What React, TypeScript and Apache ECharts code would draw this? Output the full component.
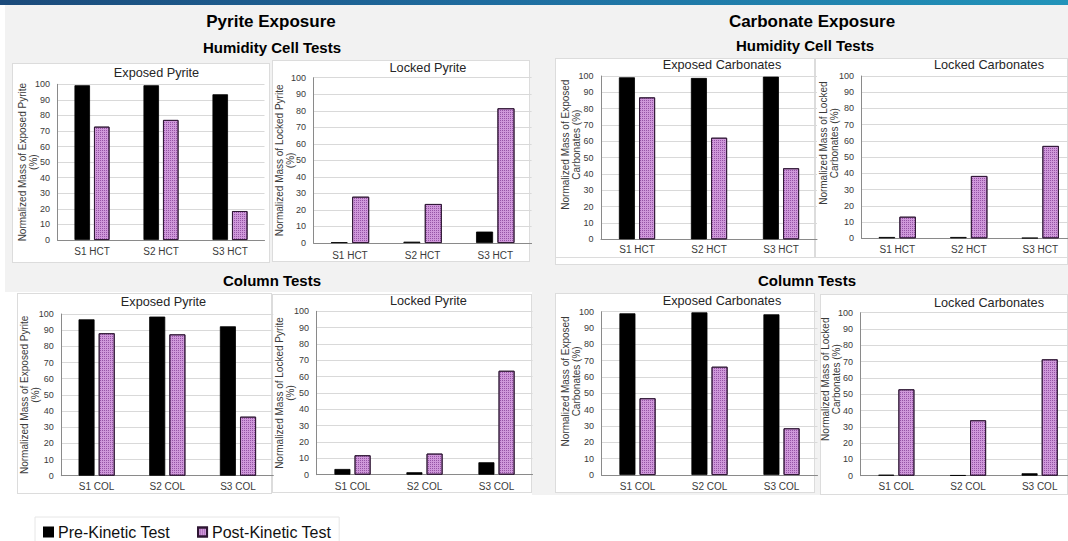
import React, { useEffect, useRef } from "react";
import * as echarts from "echarts";

const FONT = '"Liberation Sans", Arial, Helvetica, sans-serif';

// ---------- data ----------
const hctCategories = ["S1 HCT", "S2 HCT", "S3 HCT"];
const colCategories = ["S1 COL", "S2 COL", "S3 COL"];
const legendLabels = ["Pre-Kinetic Test", "Post-Kinetic Test"];

const exposedPyriteHctPre = [99.4, 99.4, 93.6];
const exposedPyriteHctPost = [72.8, 77.1, 18.6];
const lockedPyriteHctPre = [0.5, 0.8, 6.9];
const lockedPyriteHctPost = [28.0, 23.6, 81.5];
const exposedCarbHctPre = [99.2, 98.8, 99.6];
const exposedCarbHctPost = [86.9, 62.2, 43.5];
const lockedCarbHctPre = [0.8, 0.8, 0.3];
const lockedCarbHctPost = [13.3, 38.4, 56.9];

const exposedPyriteColPre = [96.7, 98.4, 92.4];
const exposedPyriteColPost = [88.1, 87.4, 36.5];
const lockedPyriteColPre = [3.5, 1.5, 7.6];
const lockedPyriteColPost = [11.9, 12.9, 63.6];
const exposedCarbColPre = [99.0, 99.6, 98.4];
const exposedCarbColPost = [47.0, 66.3, 28.6];
const lockedCarbColPre = [0.6, 0.3, 1.5];
const lockedCarbColPost = [53.0, 34.0, 71.4];

const yMin = 0;
const yMax = 100;
const yStep = 10;

const panelTitles = [
  "Exposed Pyrite", "Locked Pyrite", "Exposed Carbonates", "Locked Carbonates",
  "Exposed Pyrite", "Locked Pyrite", "Exposed Carbonates", "Locked Carbonates",
];
const yNames = [
  "Normalized Mass of Exposed Pyrite\n(%)",
  "Normalized Mass of Locked Pyrite\n(%)",
  "Normalized Mass of Exposed\nCarbonates (%)",
  "Normalized Mass of Locked\nCarbonates (%)",
  "Normalized Mass of Exposed Pyrite\n(%)",
  "Normalized Mass of Locked Pyrite\n(%)",
  "Normalized Mass of Exposed\nCarbonates (%)",
  "Normalized Mass of Locked\nCarbonates (%)",
];
const panelCats = [
  hctCategories, hctCategories, hctCategories, hctCategories,
  colCategories, colCategories, colCategories, colCategories,
];
const panelPre = [
  exposedPyriteHctPre, lockedPyriteHctPre, exposedCarbHctPre, lockedCarbHctPre,
  exposedPyriteColPre, lockedPyriteColPre, exposedCarbColPre, lockedCarbColPre,
];
const panelPost = [
  exposedPyriteHctPost, lockedPyriteHctPost, exposedCarbHctPost, lockedCarbHctPost,
  exposedPyriteColPost, lockedPyriteColPost, exposedCarbColPost, lockedCarbColPost,
];

const headerTexts = [
  { text: "Pyrite Exposure", x: 271, y: 21, size: 17 },
  { text: "Carbonate Exposure", x: 812, y: 21, size: 17 },
  { text: "Humidity Cell Tests", x: 272, y: 47, size: 15 },
  { text: "Humidity Cell Tests", x: 805, y: 45.5, size: 15 },
  { text: "Column Tests", x: 272, y: 280, size: 15 },
  { text: "Column Tests", x: 807, y: 280, size: 15 },
];

// ---------- layout ----------
const layouts = [
  { grid: [57.5, 84.3, 207, 155.7], title: [156.5, 72.5], nameShift: 0, nameGap: 18.5, xMargin: 6, bw: 15.5 },
  { grid: [313.6, 77.7, 218, 165.3], title: [428, 68], nameShift: 0, nameGap: 18, xMargin: 7.5, bw: 17 },
  { grid: [601, 76, 216, 163.3], title: [722, 65], nameShift: 13, nameGap: 19.5, xMargin: 5.5, bw: 16 },
  { grid: [861.5, 76, 214.5, 162.3], title: [989, 65], nameShift: 14, nameGap: 22, xMargin: 6, bw: 16.5 },
  { grid: [61.3, 314, 212, 161.7], title: [163.5, 302], nameShift: 0, nameGap: 20, xMargin: 6, bw: 16 },
  { grid: [316.5, 311.3, 216, 163.4], title: [428.4, 301], nameShift: 0, nameGap: 20.5, xMargin: 7, bw: 16 },
  { grid: [601.5, 311.7, 216, 163.3], title: [722, 300.7], nameShift: 12, nameGap: 20, xMargin: 6, bw: 16 },
  { grid: [860.5, 312.7, 215, 163], title: [989, 303], nameShift: 15, nameGap: 18.5, xMargin: 6, bw: 16 },
];

const bgRects = [
  { l: 0, t: 0, w: 1068, h: 4.5, bg: "linear-gradient(90deg, #1b4a7a 0%, #1f6c9f 45%, #2294ba 100%)", b: "none" },
  { l: 5, t: 5, w: 1063, h: 287, bg: "#f2f2f2", b: "none" },
  { l: 532, t: 292, w: 536, h: 203, bg: "#f2f2f2", b: "none" },
  { l: 12, t: 63, w: 258, h: 200, bg: "#ffffff", b: "1px solid #dcdcdc" },
  { l: 272, t: 60, w: 258, h: 202, bg: "#ffffff", b: "1px solid #dcdcdc" },
  { l: 555, t: 257, w: 513, h: 8, bg: "#ffffff", b: "1px solid #dcdcdc" },
  { l: 555, t: 58, w: 260, h: 200, bg: "#ffffff", b: "1px solid #dcdcdc" },
  { l: 815, t: 58, w: 253, h: 200, bg: "#ffffff", b: "1px solid #dcdcdc" },
  { l: 17, t: 293, w: 255, h: 201, bg: "#ffffff", b: "1px solid #dcdcdc" },
  { l: 272, t: 294, w: 260, h: 199, bg: "#ffffff", b: "1px solid #dcdcdc" },
  { l: 555, t: 293, w: 260, h: 200, bg: "#ffffff", b: "1px solid #dcdcdc" },
  { l: 820, t: 294, w: 248, h: 201, bg: "#ffffff", b: "1px solid #dcdcdc" },
];

const preStyle = { color: "#000000", borderColor: "#000000", borderWidth: 0.8 };
const postStyle = {
  color: "#cf98da",
  borderColor: "#2e1633",
  borderWidth: 0.9,
  decal: {
    symbol: "rect",
    symbolSize: 1,
    color: "rgba(112, 38, 132, 0.6)",
    dashArrayX: [1, 1],
    dashArrayY: [1, 1],
    rotation: 0,
  },
};

function buildOption() {
  const grid = layouts.map((l) => ({
    left: l.grid[0], top: l.grid[1], width: l.grid[2], height: l.grid[3],
    outerBoundsMode: "none",
  }));
  const xAxis = panelCats.map((cats, i) => ({
    type: "category",
    gridIndex: i,
    data: cats,
    axisTick: { show: false },
    axisLine: { show: true, lineStyle: { color: "#8a8a8a", width: 1 } },
    axisLabel: { fontSize: 10, color: "#3a3a3a", margin: layouts[i].xMargin, fontFamily: FONT },
  }));
  const yAxis = yNames.map((name, i) => ({
    type: "value",
    gridIndex: i,
    min: yMin,
    max: yMax,
    interval: yStep,
    name,
    nameLocation: "middle",
    nameGap: layouts[i].nameGap,
    nameMoveOverlap: false,
    nameTextStyle: {
      fontSize: 10,
      color: "#3a3a3a",
      fontFamily: FONT,
      lineHeight: 11,
      padding: [0, 0, 0, layouts[i].nameShift * 2],
    },
    axisTick: { show: false },
    axisLine: { show: true, lineStyle: { color: "#8a8a8a", width: 1 } },
    splitLine: { lineStyle: { color: "#d9d9d9", width: 1 } },
    axisLabel: { fontSize: 9, color: "#3a3a3a", margin: 7.5, fontFamily: FONT },
  }));
  const series: any[] = [];
  panelPre.forEach((pre, i) => {
    series.push({
      type: "bar",
      name: legendLabels[0],
      xAxisIndex: i,
      yAxisIndex: i,
      data: pre,
      barWidth: layouts[i].bw,
      barGap: "26%",
      itemStyle: preStyle,
    });
    series.push({
      type: "bar",
      name: legendLabels[1],
      xAxisIndex: i,
      yAxisIndex: i,
      data: panelPost[i],
      barWidth: layouts[i].bw,
      barGap: "26%",
      itemStyle: postStyle,
    });
  });

  const graphic: any[] = [];
  headerTexts.forEach((h) => {
    graphic.push({
      type: "text",
      x: h.x,
      y: h.y,
      style: {
        text: h.text,
        fontSize: h.size,
        fontWeight: "bold",
        fontFamily: FONT,
        fill: "#000000",
        textAlign: "center",
        textVerticalAlign: "middle",
      },
    });
  });
  panelTitles.forEach((t, i) => {
    graphic.push({
      type: "text",
      x: layouts[i].title[0],
      y: layouts[i].title[1],
      style: {
        text: t,
        fontSize: 12.7,
        fontFamily: FONT,
        fill: "#262626",
        textAlign: "center",
        textVerticalAlign: "middle",
      },
    });
  });

  return {
    animation: false,
    backgroundColor: "transparent",
    textStyle: { fontFamily: FONT },
    grid,
    xAxis,
    yAxis,
    series,
    graphic,
    legend: {
      data: legendLabels,
      left: 35,
      top: 517,
      padding: [7, 8, 7, 8],
      borderColor: "#e6e6e6",
      borderWidth: 1,
      icon: "rect",
      itemWidth: 9,
      itemHeight: 9,
      itemGap: 27,
      textStyle: { fontSize: 16, color: "#111111", fontFamily: FONT },
      selectedMode: false,
    },
  };
}

export default function App() {
  const ref = useRef<HTMLDivElement>(null);
  useEffect(() => {
    if (!ref.current) return;
    const chart = echarts.init(ref.current, null, { renderer: "svg" });
    chart.setOption(buildOption() as any);
    return () => chart.dispose();
  }, []);
  return (
    <div style={{ position: "absolute", left: 0, top: 0, width: 1068, height: 541, overflow: "hidden", background: "#ffffff" }}>
      {bgRects.map((r, i) => (
        <div
          key={i}
          style={{
            position: "absolute",
            left: r.l,
            top: r.t,
            width: r.w,
            height: r.h,
            background: r.bg,
            border: r.b,
            boxSizing: "border-box",
          }}
        />
      ))}
      <div ref={ref} style={{ position: "absolute", left: 0, top: 0, width: 1068, height: 541 }} />
    </div>
  );
}
